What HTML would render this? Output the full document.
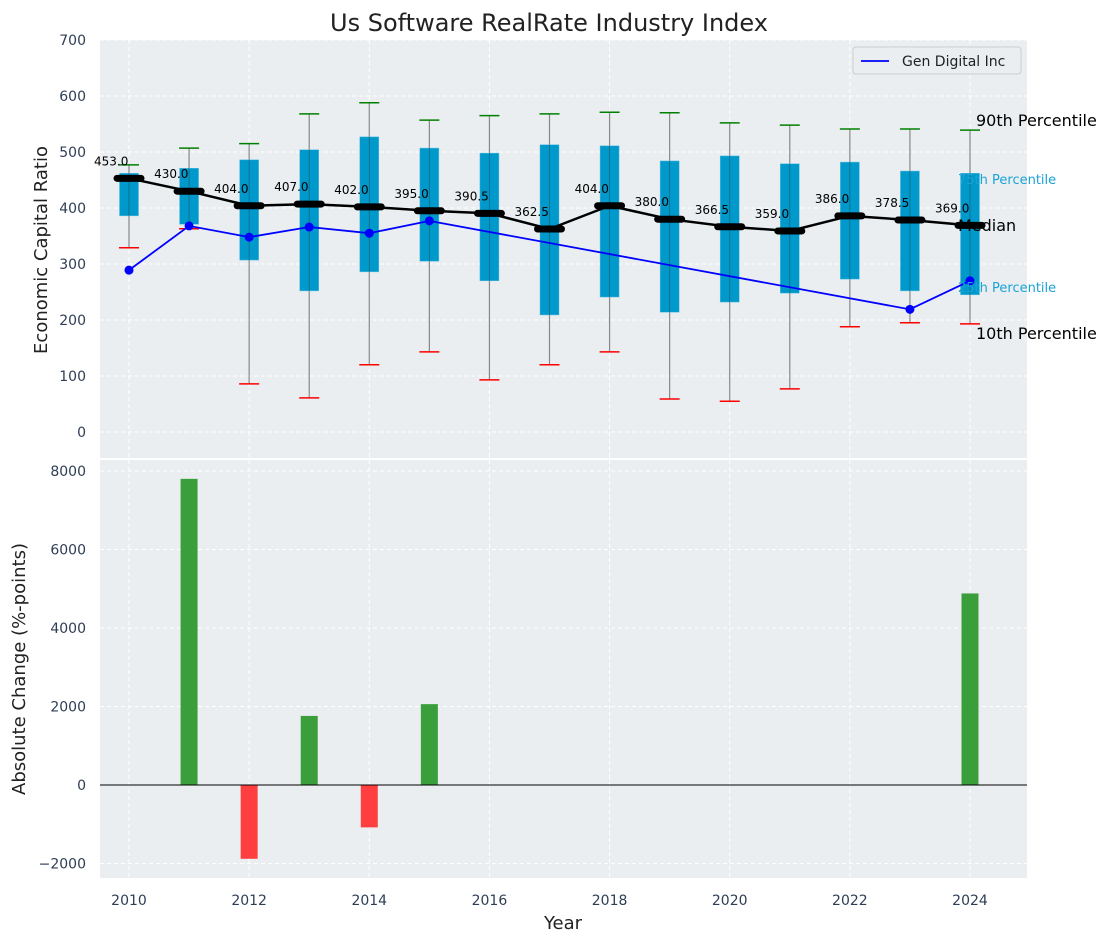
<!DOCTYPE html>
<html><head><meta charset="utf-8">
<style>
body{margin:0;background:#fff;font-family:"Liberation Sans","DejaVu Sans",sans-serif;}
svg text{font-family:"DejaVu Sans","Liberation Sans",sans-serif;}
</style></head>
<body>
<svg id="chart" width="1111" height="942" xmlns="http://www.w3.org/2000/svg"></svg>
<script>
const years=[2010,2011,2012,2013,2014,2015,2016,2017,2018,2019,2020,2021,2022,2023,2024];
const p90=[477,507,515,568,588,557,565,568,571,570,552,548,541,541,539];
const p10=[329,363,86,61,120,143,93,120,143,59,55,77,188,195,193];
const q3=[462,471,486,504,527,507,498,513,511,484,493,479,482,466,462];
const q1=[386,371,307,252,286,305,270,209,241,214,232,248,273,252,245];
const medians=[453,430,404,407,402,395,390.5,362.5,404,380,366.5,359,386,378.5,369];
const genYears=[2010,2011,2012,2013,2014,2015,2023,2024];
const genValues=[289,368,348,366,355,377,219,270];
const changeYears=[2011,2012,2013,2014,2015,2024];
const changeValues=[7800,-1880,1760,-1080,2060,4880];
const topTicks=[0,100,200,300,400,500,600,700];
const botTicks=[-2000,0,2000,4000,6000,8000];
const xTicks=[2010,2012,2014,2016,2018,2020,2022,2024];

const svg=document.getElementById('chart');
const NS='http://www.w3.org/2000/svg';
function el(tag,attrs,parent){const e=document.createElementNS(NS,tag);for(const k in attrs)e.setAttribute(k,attrs[k]);(parent||svg).appendChild(e);return e;}
const X0=100,X1=1027;
const xs=y=>129+(y-2010)*(970-129)/14;
const yt=v=>432-v*0.56;
const yb=v=>785-v*0.03925;

let e=el('rect',{x:X0,y:40,width:X1-X0,height:418,fill:'#eaeef0'});

e=el('rect',{x:X0,y:460,width:X1-X0,height:418,fill:'#eaeef0'});


xTicks.forEach(t=>{
  el('line',{x1:xs(t),x2:xs(t),y1:40,y2:458,stroke:'#fff','stroke-dasharray':'4,3','stroke-width':1});
  el('line',{x1:xs(t),x2:xs(t),y1:460,y2:878,stroke:'#fff','stroke-dasharray':'4,3','stroke-width':1});
  const tx=el('text',{x:xs(t),y:905,'text-anchor':'middle','font-size':14,fill:'#2e3e55'});tx.textContent=t;
  
});
topTicks.forEach(t=>{
  el('line',{x1:X0,x2:X1,y1:yt(t),y2:yt(t),stroke:'#fff','stroke-dasharray':'4,3'});
  const tx=el('text',{x:86,y:yt(t)+5,'text-anchor':'end','font-size':14,fill:'#2e3e55'});tx.textContent=t;
  
});
botTicks.forEach(t=>{
  el('line',{x1:X0,x2:X1,y1:yb(t),y2:yb(t),stroke:'#fff','stroke-dasharray':'4,3'});
  const tx=el('text',{x:86,y:yb(t)+5,'text-anchor':'end','font-size':14,fill:'#2e3e55'});tx.textContent=(t<0?'\u2212'+(-t):t);
  
});

years.forEach((y,i)=>{
  const x=xs(y);
  let w=el('line',{x1:x,x2:x,y1:yt(p90[i]),y2:yt(p10[i]),stroke:'#888','stroke-width':1.2});
  
  el('line',{x1:x-10,x2:x+10,y1:yt(p90[i]),y2:yt(p90[i]),stroke:'green','stroke-width':1.5});
  el('line',{x1:x-10,x2:x+10,y1:yt(p10[i]),y2:yt(p10[i]),stroke:'red','stroke-width':1.5});
  let b=el('rect',{x:x-9.5,y:yt(q3[i]),width:19,height:yt(q1[i])-yt(q3[i]),fill:'#0099cc',stroke:'#5bbde0','stroke-width':0.5});
  
  el('line',{x1:x,x2:x,y1:yt(q3[i]),y2:yt(q1[i]),stroke:'#333','stroke-width':0.8,opacity:0.5});
});
let pts=genYears.map((y,i)=>xs(y)+','+yt(genValues[i])).join(' ');
e=el('polyline',{points:pts,fill:'none',stroke:'#0000ff','stroke-width':1.8});

genYears.forEach((y,i)=>{
  const c=el('circle',{cx:xs(y),cy:yt(genValues[i]),r:4.5,fill:'#0000ff'});
  
});
pts=years.map((y,i)=>xs(y)+','+yt(medians[i])).join(' ');
e=el('polyline',{points:pts,fill:'none',stroke:'#000','stroke-width':2.5});

years.forEach((y,i)=>{
  const m=el('line',{x1:xs(y)-12,x2:xs(y)+12,y1:yt(medians[i]),y2:yt(medians[i]),stroke:'#000','stroke-width':7,'stroke-linecap':'round'});
  
  const t=el('text',{x:xs(y)-35,y:yt(medians[i])-13,'font-size':12,fill:'#000'});t.textContent=medians[i].toFixed(1);
  
});
const ann=[['90th Percentile',976,126,16,'#000'],['75th Percentile',958,184,13,'#1aa3d6'],['Median',958,231,16,'#000'],['25th Percentile',958,292,13,'#1aa3d6'],['10th Percentile',976,339,16,'#000']];
ann.forEach(a=>{const t=el('text',{x:a[1],y:a[2],'font-size':a[3],fill:a[4]});t.textContent=a[0];
  });

const lg=el('g',{});
el('rect',{x:853,y:47,width:168,height:27,rx:3,fill:'#eaeef0',stroke:'#ccc'},lg);
el('line',{x1:861,x2:889,y1:61,y2:61,stroke:'#0000ff','stroke-width':1.8},lg);
let lt=el('text',{x:902,y:66,'font-size':14,fill:'#222'},lg);lt.textContent='Gen Digital Inc';

changeYears.forEach((y,i)=>{
  const v=changeValues[i];
  const r=el('rect',{x:xs(y)-8.5,y:Math.min(yb(v),yb(0)),width:17,height:Math.abs(yb(v)-yb(0)),fill:v>=0?'#3a9e3a':'#ff3f3f'});
  
});
el('line',{x1:X0,x2:X1,y1:yb(0),y2:yb(0),stroke:'#000','stroke-width':1});

let t=el('text',{x:549,y:31,'text-anchor':'middle','font-size':24,fill:'#222'});t.textContent='Us Software RealRate Industry Index';

t=el('text',{x:0,y:0,'text-anchor':'middle','font-size':18,fill:'#222',transform:'translate(47,250) rotate(-90)'});t.textContent='Economic Capital Ratio';

t=el('text',{x:0,y:0,'text-anchor':'middle','font-size':18,fill:'#222',transform:'translate(25,669) rotate(-90)'});t.textContent='Absolute Change (%-points)';

t=el('text',{x:563,y:929,'text-anchor':'middle','font-size':18,fill:'#222'});t.textContent='Year';

</script>
</body></html>
